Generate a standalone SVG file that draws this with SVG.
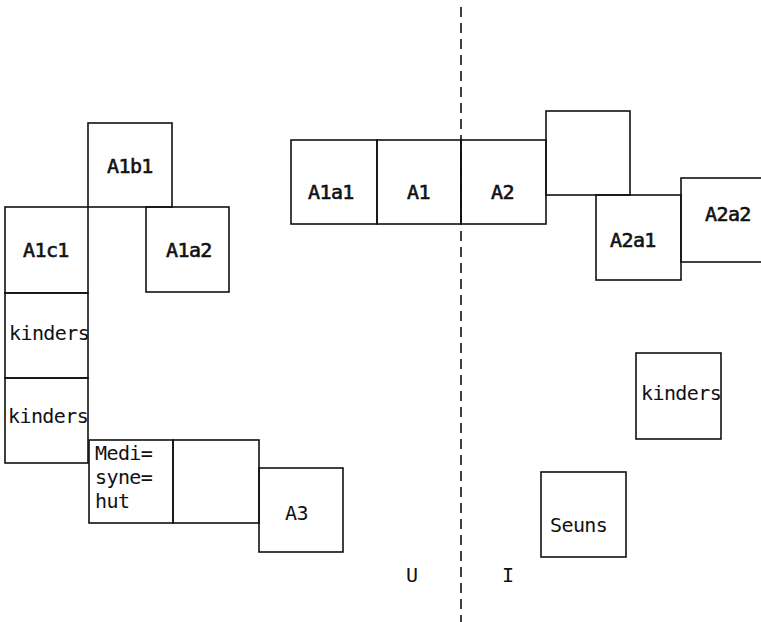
<svg xmlns="http://www.w3.org/2000/svg" width="761" height="622" viewBox="0 0 761 622">
<style>
.box{fill:none;stroke:#111;stroke-width:1.6}
.t{font-family:"DejaVu Sans Mono","Liberation Mono",monospace;font-size:20px;letter-spacing:-0.6px;fill:#111}
.b{stroke:#111;stroke-width:0.6}
.div{stroke:#111;stroke-width:1.6;stroke-dasharray:10 6;fill:none}
</style>
<rect width="761" height="622" fill="#fff"/>
<g id="connectors">
<line class="div" x1="461" y1="7" x2="461" y2="622"/>
</g>
<g id="A1b1"><rect class="box" x="88" y="123" width="84" height="84"/><text class="t b" x="107" y="173">A1b1</text></g>
<g id="A1c1"><rect class="box" x="5" y="207" width="83" height="86"/><text class="t b" x="23" y="257">A1c1</text></g>
<g id="A1a2"><rect class="box" x="146" y="207" width="83" height="85"/><text class="t b" x="166" y="257">A1a2</text></g>
<g id="kinders1"><rect class="box" x="5" y="293" width="83" height="85"/><text class="t" x="9" y="340">kinders</text></g>
<g id="kinders2"><rect class="box" x="5" y="378" width="83" height="85"/><text class="t" x="8" y="423">kinders</text></g>
<g id="medisynehut"><rect class="box" x="89" y="440" width="84" height="83"/><text class="t" x="95" y="460">Medi=</text><text class="t" x="95" y="484">syne=</text><text class="t" x="95" y="508">hut</text></g>
<g id="blank1"><rect class="box" x="173" y="440" width="86" height="83"/></g>
<g id="A3"><rect class="box" x="259" y="468" width="84" height="84"/><text class="t" x="285" y="520">A3</text></g>
<g id="A1a1"><rect class="box" x="291" y="140" width="86" height="84"/><text class="t b" x="308" y="199">A1a1</text></g>
<g id="A1"><rect class="box" x="377" y="140" width="84" height="84"/><text class="t b" x="407" y="199">A1</text></g>
<g id="A2"><rect class="box" x="461" y="140" width="85" height="84"/><text class="t b" x="491" y="199">A2</text></g>
<g id="blank2"><rect class="box" x="546" y="111" width="84" height="84"/></g>
<g id="A2a1"><rect class="box" x="596" y="195" width="85" height="85"/><text class="t b" x="610" y="247">A2a1</text></g>
<g id="A2a2"><rect class="box" x="681" y="178" width="90" height="84"/><text class="t b" x="705" y="221">A2a2</text></g>
<g id="kinders3"><rect class="box" x="636" y="353" width="85" height="86"/><text class="t" x="641" y="400">kinders</text></g>
<g id="Seuns"><rect class="box" x="541" y="472" width="85" height="85"/><text class="t" x="550" y="532">Seuns</text></g>
<g id="labels"><text class="t" x="406" y="582">U</text><text class="t" x="502" y="582">I</text></g>
</svg>
